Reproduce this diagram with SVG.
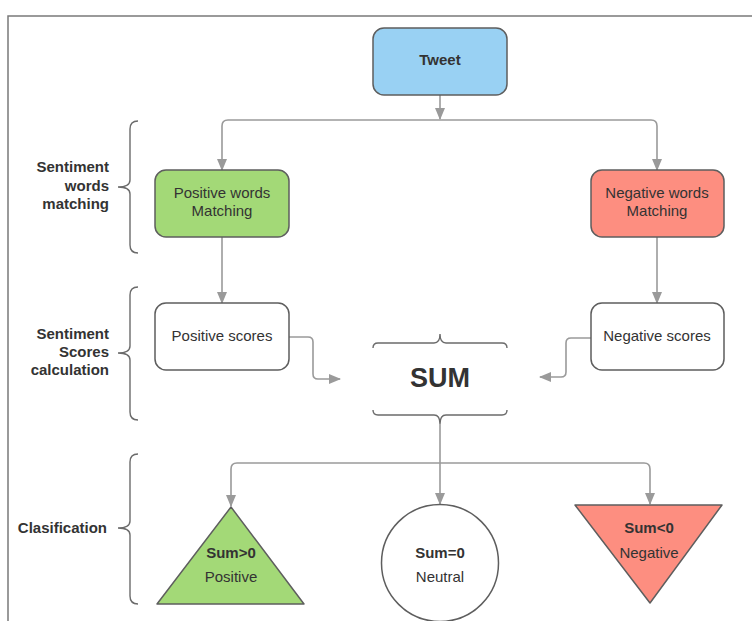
<svg xmlns="http://www.w3.org/2000/svg" width="752" height="621" viewBox="0 0 752 621">
  <style>
    .node { stroke: #5e5e5e; stroke-width: 1.5; }
    .conn { fill: none; stroke: #9a9a9a; stroke-width: 1.6; }
    .brace { fill: none; stroke: #6b6b6b; stroke-width: 1.4; }
    .t { font-family: "Liberation Sans", Arial, sans-serif; font-size: 15px; fill: #333; text-anchor: middle; }
    .b { font-weight: bold; }
    .lbl { font-family: "Liberation Sans", Arial, sans-serif; font-size: 15px; font-weight: bold; fill: #333; text-anchor: end; }
  </style>
  <defs>
    <marker id="arr" viewBox="0 0 12 10" refX="11" refY="5" markerWidth="12" markerHeight="10" markerUnits="userSpaceOnUse" orient="auto-start-reverse">
      <path d="M0,0 L12,5 L0,10 Z" fill="#9a9a9a"/>
    </marker>
  </defs>

  <rect width="752" height="621" fill="#ffffff"/>
  <!-- page frame -->
  <path d="M8,630 L8,16 L760,16" fill="none" stroke="#7a7a7a" stroke-width="1.5"/>

  <!-- row braces and labels -->
  <g id="row-matching">
    <path class="brace" d="M138,121 Q130,121 130,129 L130,180 Q130,187 118,187 Q130,187 130,194 L130,245 Q130,253 138,253"/>
    <text class="lbl" x="109" y="172">Sentiment</text>
    <text class="lbl" x="109" y="191">words</text>
    <text class="lbl" x="109" y="209">matching</text>
  </g>
  <g id="row-scores">
    <path class="brace" d="M138,287 Q130,287 130,295 L130,346 Q130,353 118,353 Q130,353 130,360 L130,412 Q130,420 138,420"/>
    <text class="lbl" x="109" y="339">Sentiment</text>
    <text class="lbl" x="109" y="357">Scores</text>
    <text class="lbl" x="109" y="375">calculation</text>
  </g>
  <g id="row-classification">
    <path class="brace" d="M138,454 Q130,454 130,462 L130,521 Q130,528 118,528 Q130,528 130,535 L130,596 Q130,604 138,604"/>
    <text class="lbl" x="107" y="533">Clasification</text>
  </g>

  <!-- connectors -->
  <g id="connectors">
    <path class="conn" d="M440,95 L440,119" marker-end="url(#arr)"/>
    <path class="conn" d="M222,170 L222,126 Q222,120 228,120 L651,120 Q657,120 657,126 L657,170" marker-start="url(#arr)" marker-end="url(#arr)"/>
    <path class="conn" d="M222,237 L222,303" marker-end="url(#arr)"/>
    <path class="conn" d="M657,237 L657,303" marker-end="url(#arr)"/>
    <path class="conn" d="M289,337 L308,337 Q313,337 313,342 L313,374 Q313,379 318,379 L340,379" marker-end="url(#arr)"/>
    <path class="conn" d="M591,338 L571,338 Q566,338 566,343 L566,372 Q566,377 561,377 L540,377" marker-end="url(#arr)"/>
    <path class="conn" d="M440,424 L440,504" marker-end="url(#arr)"/>
    <path class="conn" d="M231,506 L231,469 Q231,463 237,463 L644,463 Q650,463 650,469 L650,504" marker-start="url(#arr)" marker-end="url(#arr)"/>
  </g>

  <!-- nodes -->
  <g id="tweet">
    <rect class="node" x="373" y="28" width="134" height="67" rx="11" fill="#99d1f3"/>
    <text class="t b" x="440" y="65">Tweet</text>
  </g>
  <g id="positive-words">
    <rect class="node" x="155" y="170" width="134" height="67" rx="11" fill="#a3d977"/>
    <text class="t" x="222" y="198">Positive words</text>
    <text class="t" x="222" y="216">Matching</text>
  </g>
  <g id="negative-words">
    <rect class="node" x="591" y="170" width="133" height="67" rx="11" fill="#fd8e80"/>
    <text class="t" x="657" y="198">Negative words</text>
    <text class="t" x="657" y="216">Matching</text>
  </g>
  <g id="positive-scores">
    <rect class="node" x="155" y="303" width="134" height="67" rx="11" fill="#ffffff"/>
    <text class="t" x="222" y="341">Positive scores</text>
  </g>
  <g id="negative-scores">
    <rect class="node" x="591" y="303" width="133" height="67" rx="11" fill="#ffffff"/>
    <text class="t" x="657" y="341">Negative scores</text>
  </g>
  <g id="sum">
    <path class="brace" d="M373,348 Q373,343 378,343 L434,343 Q440,343 440,334 Q440,343 446,343 L502,343 Q507,343 507,348"/>
    <path class="brace" d="M373,410 Q373,415 378,415 L434,415 Q440,415 440,424 Q440,415 446,415 L502,415 Q507,415 507,410"/>
    <text class="t b" x="440" y="387" style="font-size:27px">SUM</text>
  </g>
  <g id="positive">
    <polygon class="node" points="231,507 304,604 157,604" fill="#a3d977" stroke-linejoin="round"/>
    <text class="t b" x="231" y="558">Sum&gt;0</text>
    <text class="t" x="231" y="582">Positive</text>
  </g>
  <g id="neutral">
    <circle class="node" cx="440" cy="563" r="58.5" fill="#ffffff"/>
    <text class="t b" x="440" y="558">Sum=0</text>
    <text class="t" x="440" y="582">Neutral</text>
  </g>
  <g id="negative">
    <polygon class="node" points="575,505 722,505 650,603" fill="#fd8e80" stroke-linejoin="round"/>
    <text class="t b" x="649" y="533">Sum&lt;0</text>
    <text class="t" x="649" y="558">Negative</text>
  </g>
</svg>
